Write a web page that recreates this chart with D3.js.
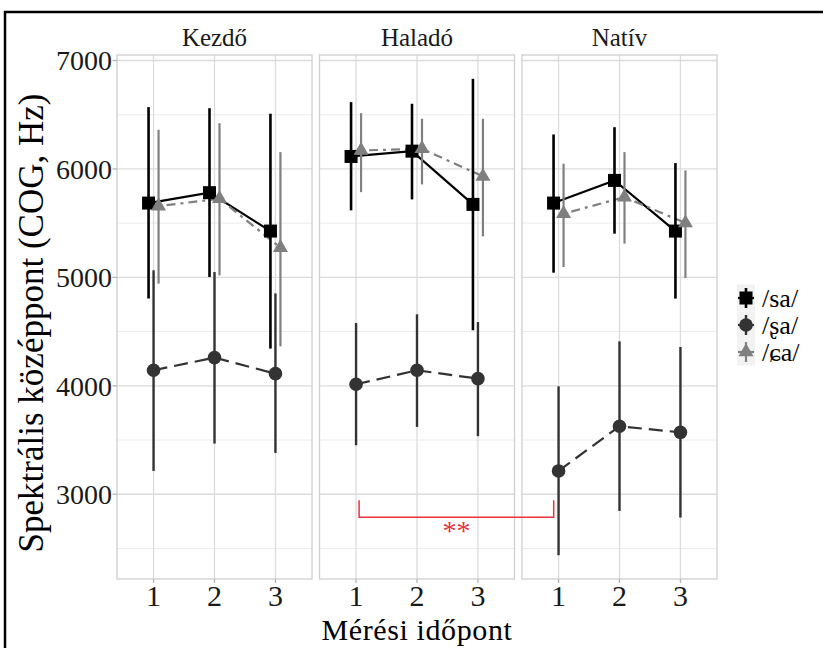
<!DOCTYPE html>
<html><head><meta charset="utf-8">
<script src="https://cdn.jsdelivr.net/npm/d3@7"></script>
<style>body{margin:0;background:#fff}svg{display:block}</style>
</head><body><svg id="c" width="823" height="648" font-family="'Liberation Serif','Times New Roman','DejaVu Serif',serif"></svg>
<script>
// ---- data ----
const groups = ["Kezdő", "Haladó", "Natív"];
const times = [1, 2, 3];
const sounds = ["/sa/", "/ʂa/", "/ɕa/"];
const yTicks = [3000, 4000, 5000, 6000, 7000];
const yMinor = [2500, 3500, 4500, 5500, 6500];
// per group (Kezdő, Haladó, Natív), per time (1,2,3)
const saMean = [[5685, 5781, 5427], [6115, 6164, 5673], [5685, 5894, 5427]];
const saLow  = [[4805, 5003, 4343], [5618, 5719, 4512], [5043, 5403, 4804]];
const saHigh = [[6570, 6560, 6509], [6616, 6601, 6831], [6318, 6385, 6054]];
const shMean = [[4143, 4260, 4112], [4014, 4143, 4066], [3215, 3627, 3571]];
const shLow  = [[3215, 3467, 3381], [3452, 3621, 3535], [2438, 2846, 2785]];
const shHigh = [[5065, 5049, 4852], [4579, 4659, 4588], [3995, 4410, 4358]];
const caMean = [[5657, 5725, 5274], [6170, 6186, 5931], [5587, 5740, 5501]];
const caLow  = [[4942, 5018, 4364], [5786, 5857, 5378], [5095, 5311, 4994]];
const caHigh = [[6361, 6422, 6155], [6514, 6463, 6463], [6048, 6155, 5986]];
// significance bracket: Haladó t1 (ʂa) vs Natív t1 (ʂa)
const sigFrom = {group: 1, time: 1.05};
const sigTo = {group: 2, time: 0.92};
const sigLevels = [2945, 2788];
const sigLabel = "**";

// ---- layout ----
const svg = d3.select("#c");
const pTop = 55, pBottom = 579, pw = 195, gap = 7.5, left0 = 117;
const allVals = [saLow, saHigh, shLow, shHigh, caLow, caHigh].flat(2);
const ext = d3.extent(allVals), pad = (ext[1] - ext[0]) * 0.05;
const y = d3.scaleLinear().domain([ext[0] - pad, ext[1] + pad]).range([pBottom, pTop]);
const xs = groups.map((g, i) => d3.scaleLinear().domain([0.4, 3.6]).range([left0 + i * (pw + gap), left0 + i * (pw + gap) + pw]));

const series = [
  {name: sounds[0], mean: saMean, low: saLow, high: saHigh, color: "#000000", barColor: "#000000", bw: 2.6, lw: 2.2, dash: null, shape: "square", dodge: -0.082},
  {name: sounds[1], mean: shMean, low: shLow, high: shHigh, color: "#333333", barColor: "#333333", bw: 2.4, lw: 2.2, dash: "14,7", shape: "circle", dodge: 0},
  {name: sounds[2], mean: caMean, low: caLow, high: caHigh, color: "#7f7f7f", barColor: "#808080", bw: 2.2, lw: 2.2, dash: "3,5,9,5", shape: "triangle", dodge: 0.082}
];

function drawShape(g, shape, cx, cy, color) {
  if (shape === "square") g.append("rect").attr("x", cx - 6.5).attr("y", cy - 6.5).attr("width", 13).attr("height", 13).attr("fill", color);
  else if (shape === "circle") g.append("circle").attr("cx", cx).attr("cy", cy).attr("r", 6.8).attr("fill", color);
  else {
    const s = 15, h = s * Math.sqrt(3) / 2;
    g.append("path").attr("d", `M${cx},${cy - h * 2 / 3}L${cx + s / 2},${cy + h / 3}L${cx - s / 2},${cy + h / 3}Z`).attr("fill", color);
  }
}

// panels
groups.forEach((gname, gi) => {
  const x = xs[gi];
  const [x0, x1] = x.range();
  const p = svg.append("g");
  p.selectAll(".mn").data(yMinor).join("line").attr("x1", x0).attr("x2", x1).attr("y1", d => y(d)).attr("y2", d => y(d)).attr("stroke", "#ececec").attr("stroke-width", 1);
  p.selectAll(".mj").data(yTicks).join("line").attr("x1", x0).attr("x2", x1).attr("y1", d => y(d)).attr("y2", d => y(d)).attr("stroke", "#dcdcdc").attr("stroke-width", 1.3);
  p.selectAll(".vx").data(times).join("line").attr("x1", d => x(d)).attr("x2", d => x(d)).attr("y1", pTop).attr("y2", pBottom).attr("stroke", "#dcdcdc").attr("stroke-width", 1.3);
  p.append("rect").attr("x", x0).attr("y", pTop).attr("width", x1 - x0).attr("height", pBottom - pTop).attr("fill", "none").attr("stroke", "#cfcfcf").attr("stroke-width", 1.3);
  p.selectAll(".xt").data(times).join("line").attr("x1", d => x(d)).attr("x2", d => x(d)).attr("y1", pBottom).attr("y2", pBottom + 4).attr("stroke", "#b3b3b3").attr("stroke-width", 1.3);
  p.selectAll(".xl").data(times).join("text").attr("x", d => x(d)).attr("y", 606).attr("text-anchor", "middle").attr("font-size", 30).attr("fill", "#1a1a1a").text(d => d);
  p.append("text").attr("x", (x0 + x1) / 2).attr("y", 46).attr("text-anchor", "middle").attr("font-size", 25).attr("fill", "#1a1a1a").text(gname);
});

// y axis
svg.selectAll(".yt").data(yTicks).join("line").attr("x1", left0 - 4.5).attr("x2", left0).attr("y1", d => y(d)).attr("y2", d => y(d)).attr("stroke", "#b3b3b3").attr("stroke-width", 1.3);
svg.selectAll(".yl").data(yTicks).join("text").attr("x", left0 - 5).attr("y", d => y(d)).attr("dy", "0.35em").attr("text-anchor", "end").attr("font-size", 28).attr("fill", "#1a1a1a").text(d => d);

// lines
series.forEach(s => {
  groups.forEach((g, gi) => {
    const line = d3.line().x((d, i) => xs[gi](times[i] + s.dodge)).y(d => y(d));
    svg.append("path").attr("d", line(s.mean[gi])).attr("fill", "none").attr("stroke", s.color).attr("stroke-width", s.lw).attr("stroke-dasharray", s.dash);
  });
});
// pointranges
series.forEach(s => {
  groups.forEach((g, gi) => {
    times.forEach((t, ti) => {
      const cx = xs[gi](t + s.dodge);
      svg.append("line").attr("x1", cx).attr("x2", cx).attr("y1", y(s.low[gi][ti])).attr("y2", y(s.high[gi][ti])).attr("stroke", s.barColor).attr("stroke-width", s.bw);
      drawShape(svg, s.shape, cx, y(s.mean[gi][ti]), s.color);
    });
  });
});

// significance bracket
const red = "#e8333f";
const bx1 = xs[sigFrom.group](sigFrom.time), bx2 = xs[sigTo.group](sigTo.time);
svg.append("path").attr("d", `M${bx1},${y(sigLevels[0])}V${y(sigLevels[1])}H${bx2}V${y(sigLevels[0])}`).attr("fill", "none").attr("stroke", red).attr("stroke-width", 1.5);
svg.append("text").attr("x", (bx1 + bx2) / 2).attr("y", y(sigLevels[1]) + 23).attr("text-anchor", "middle").attr("font-size", 28).attr("fill", red).text(sigLabel);

// axis titles
svg.append("text").attr("x", (xs[0].range()[0] + xs[2].range()[1]) / 2).attr("y", 640).attr("text-anchor", "middle").attr("font-size", 30).attr("letter-spacing", 0.6).attr("fill", "#000").text("Mérési időpont");
svg.append("text").attr("transform", `translate(43,${(pTop + pBottom) / 2 + 6}) rotate(-90)`).attr("text-anchor", "middle").attr("font-size", 35).attr("fill", "#000").text("Spektrális középpont (COG, Hz)");

// legend
const lg = svg.append("g");
const ly0 = 298, lstep = 27, lkx = 746;
series.forEach((s, i) => {
  const cy = ly0 + i * lstep;
  lg.append("rect").attr("x", lkx - 9).attr("y", cy - 13.5).attr("width", 18).attr("height", 27).attr("fill", "#f2f2f2");
});
series.forEach((s, i) => {
  const cy = ly0 + i * lstep;
  lg.append("line").attr("x1", lkx - 8).attr("x2", lkx + 8).attr("y1", cy).attr("y2", cy).attr("stroke", s.color).attr("stroke-width", s.lw);
  lg.append("line").attr("x1", lkx).attr("x2", lkx).attr("y1", cy - 10).attr("y2", cy + 10).attr("stroke", s.barColor).attr("stroke-width", s.bw);
  drawShape(lg, s.shape, lkx, cy, s.color);
  lg.append("text").attr("x", lkx + 16).attr("y", cy).attr("dy", "0.33em").attr("font-size", 26).attr("fill", "#000").text(s.name);
});

// outer frame (partially visible)
svg.append("path").attr("d", "M5,660V12H830").attr("fill", "none").attr("stroke", "#000").attr("stroke-width", 2.5);
</script></body></html>
